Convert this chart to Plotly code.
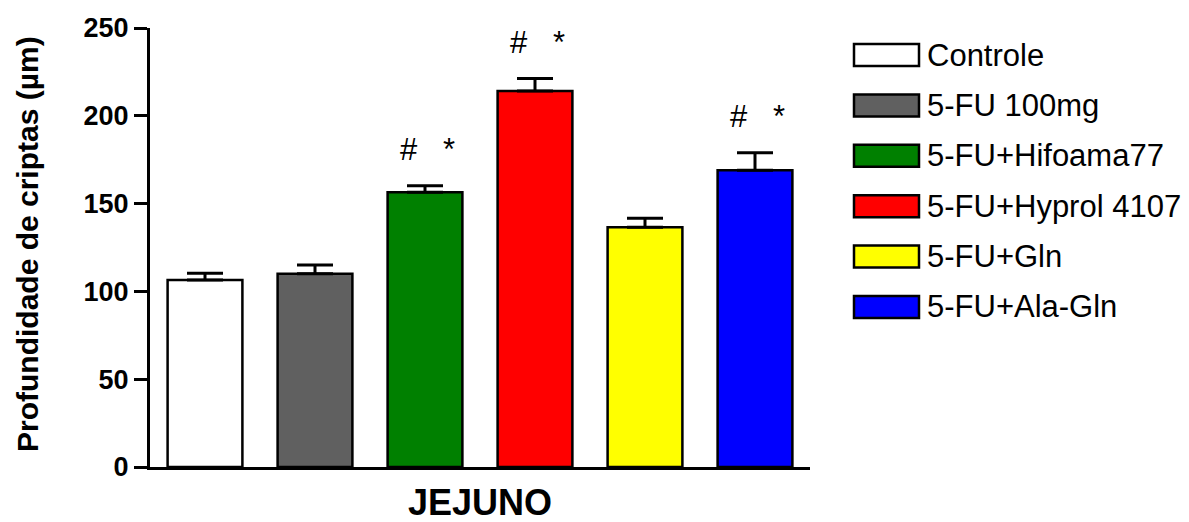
import plotly.graph_objects as go

# Crypt depth in the jejunum (mean + SEM)
groups = ["Controle", "5-FU 100mg", "5-FU+Hifoama77",
          "5-FU+Hyprol 4107", "5-FU+Gln", "5-FU+Ala-Gln"]
means = [106.5, 110.0, 156.4, 214.1, 136.5, 169.0]
sems = [3.8, 5.1, 3.8, 7.2, 5.1, 10.0]
marks = ["", "", "#\u00a0\u00a0\u00a0*", "#\u00a0\u00a0\u00a0*", "", "#\u00a0\u00a0\u00a0*"]
colors = ["#FFFFFF", "#606060", "#008000", "#FF0000", "#FFFF00", "#0000FF"]
y_ticks = [0, 50, 100, 150, 200, 250]

FONT = "Liberation Sans, Arial, sans-serif"
W, H = 1189, 522
ML, MR, MT, MB = 150, 379, 28, 55
PW, PH = W - ML - MR, H - MT - MB


def px_x(x):
    return (x - ML) / PW


def px_y(y):
    return (H - MB - y) / PH


fig = go.Figure()
fig.add_trace(go.Bar(
    x=groups, y=means, width=0.68,
    marker=dict(color=colors, line=dict(color="black", width=2.5)),
    error_y=dict(type="data", symmetric=False, array=sems,
                 arrayminus=[0] * len(sems), color="black",
                 thickness=3, width=18),
    showlegend=False,
))

# significance marks above the error bars
for g, m, s, t in zip(groups, means, sems, marks):
    if t:
        fig.add_annotation(x=g, y=m + s, text=t, showarrow=False,
                           yanchor="middle", yshift=36, xshift=2,
                           font=dict(family=FONT, size=31, color="black"))

# legend: coloured boxes with labels
row0, row_step = 55, 50.4
for i, (g, c) in enumerate(zip(groups, colors)):
    yc = row0 + i * row_step
    fig.add_shape(type="rect", xref="paper", yref="paper",
                  x0=px_x(854), x1=px_x(919),
                  y0=px_y(yc + 11), y1=px_y(yc - 11),
                  fillcolor=c, line=dict(color="black", width=2.5))
    fig.add_annotation(xref="paper", yref="paper", x=px_x(925), y=px_y(yc),
                       xanchor="left", yanchor="middle", text=g,
                       showarrow=False,
                       font=dict(family=FONT, size=31, color="black"))

# axis titles
fig.add_annotation(xref="paper", yref="paper", x=0.5, y=px_y(502),
                   text="<b>JEJUNO</b>", showarrow=False,
                   xanchor="center", yanchor="middle",
                   font=dict(family=FONT, size=36, color="black"))
fig.add_annotation(xref="paper", yref="paper", x=px_x(28), y=px_y(244),
                   text="<b>Profundidade de criptas (µm)</b>", textangle=-90,
                   showarrow=False, xanchor="center", yanchor="middle",
                   font=dict(family=FONT, size=30, color="black"))

fig.update_xaxes(range=[-0.5, 5.5], showticklabels=False, ticks="",
                 showline=True, linecolor="black", linewidth=3,
                 showgrid=False, zeroline=False)
fig.update_yaxes(range=[0, 250], tickvals=y_ticks, ticks="outside",
                 ticklen=13, tickwidth=3, tickcolor="black",
                 showline=True, linecolor="black", linewidth=3,
                 showgrid=False, zeroline=False,
                 tickfont=dict(family=FONT, size=27, color="black",
                               weight="bold"))

fig.update_layout(width=W, height=H,
                  margin=dict(l=ML, r=MR, t=MT, b=MB),
                  plot_bgcolor="white", paper_bgcolor="white",
                  font=dict(family=FONT, color="black"))

fig.write_html("out.html")
